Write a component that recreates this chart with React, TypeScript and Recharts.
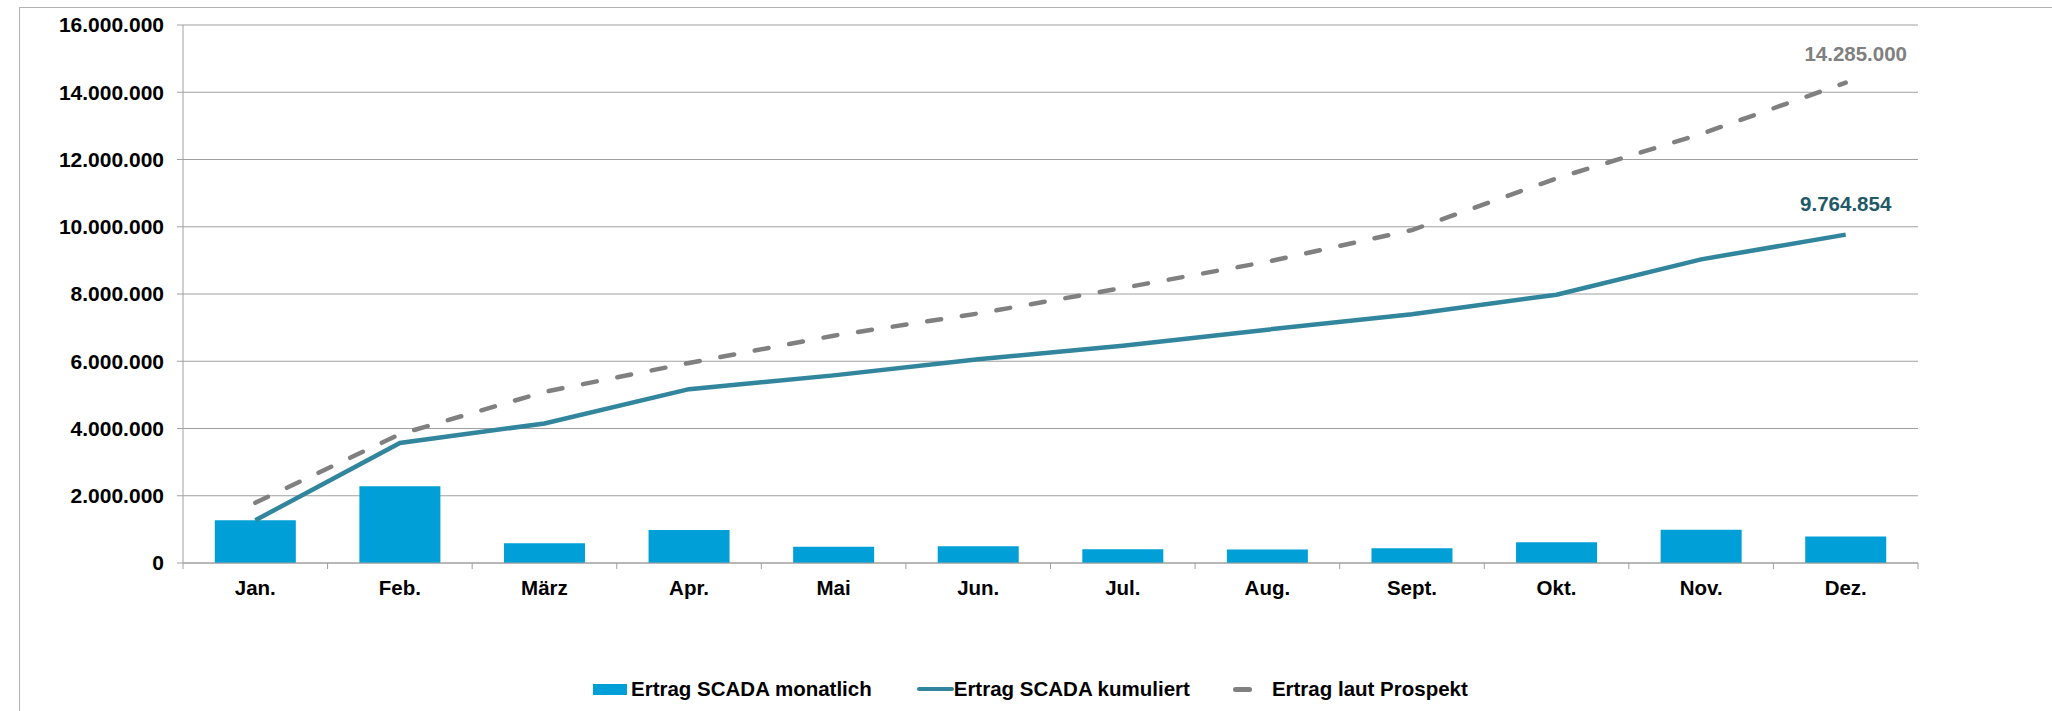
import { ComposedChart, Bar, Line, XAxis, YAxis, CartesianGrid, Legend, LabelList } from "recharts";

const months = ["Jan.", "Feb.", "März", "Apr.", "Mai", "Jun.", "Jul.", "Aug.", "Sept.", "Okt.", "Nov.", "Dez."];
const monatlich = [1270000, 2280000, 590000, 980000, 480000, 500000, 410000, 400000, 440000, 615000, 990000, 785000];
const kumuliert = [1270000, 3570000, 4150000, 5170000, 5580000, 6060000, 6460000, 6940000, 7400000, 7980000, 9030000, 9764854];
const prospekt = [1790000, 3830000, 5090000, 5950000, 6760000, 7420000, 8180000, 8960000, 9900000, 11440000, 12760000, 14285000];
const yTicks = [0, 2000000, 4000000, 6000000, 8000000, 10000000, 12000000, 14000000, 16000000];

const seriesNames = ["Ertrag SCADA monatlich", "Ertrag SCADA kumuliert", "Ertrag laut Prospekt"];

const data = months.map((m, i) => ({
  month: m,
  monatlich: monatlich[i],
  kumuliert: kumuliert[i],
  prospekt: prospekt[i],
}));

const CHART_W = 2052;
const CHART_H = 711;
const MARGIN = { top: 25, right: 134, bottom: 108, left: 0 };
const Y_W = 183;
const Y_TICK = 6;
const BAND = (CHART_W - MARGIN.left - MARGIN.right - Y_W) / months.length;

const FONT = '"Liberation Sans", Arial, sans-serif';
const FS = 20.5;
const BLUE = "#009fd7";
const TEAL = "#31859c";
const TEAL_DARK = "#215968";
const GREY = "#808080";
const AXIS = "#a0a0a0";

const fmt = (v: number) => String(Math.round(v)).replace(/\B(?=(\d{3})+(?!\d))/g, ".");

function MonthTick(props: any) {
  const { x, y, payload, index } = props;
  const half = BAND / 2;
  return (
    <g>
      <line x1={x - half} x2={x - half} y1={y} y2={y + 6} stroke={AXIS} />
      {index === months.length - 1 && (
        <line x1={x + half} x2={x + half} y1={y} y2={y + 6} stroke={AXIS} />
      )}
      <text x={x} y={y + 17} dy="0.71em" textAnchor="middle" fontFamily={FONT} fontSize={FS} fontWeight="bold" fill="#000">
        {payload.value}
      </text>
    </g>
  );
}

// label right edge sits 19px left of the axis line
function ValueTick(props: any) {
  const { y, payload } = props;
  return (
    <text x={Y_W - 19} y={y} dy="0.355em" textAnchor="end" fontFamily={FONT} fontSize={21} fontWeight="bold" fill="#000">
      {fmt(payload.value)}
    </text>
  );
}

const endLabel = (color: string, dx: number, dy: number) => (p: any) =>
  p.index === months.length - 1 ? (
    <text x={p.x + dx} y={p.y + dy} textAnchor="middle" fontFamily={FONT} fontSize={FS} fontWeight="bold" fill={color}>
      {fmt(p.value)}
    </text>
  ) : null;

function LegendBox() {
  const txt = { fontFamily: FONT, fontSize: FS, fontWeight: "bold" as const, color: "#000", whiteSpace: "nowrap" as const };
  return (
    <div style={{ display: "flex", alignItems: "center", height: 24 }}>
      <span style={{ display: "inline-block", width: 34, height: 11, background: BLUE, marginRight: 4 }} />
      <span style={txt}>{seriesNames[0]}</span>
      <span style={{ display: "inline-block", width: 37, height: 4, background: TEAL, borderRadius: 2, marginLeft: 45 }} />
      <span style={txt}>{seriesNames[1]}</span>
      <span style={{ display: "inline-block", width: 19, height: 5, background: GREY, borderRadius: 3, marginLeft: 43, marginRight: 20 }} />
      <span style={txt}>{seriesNames[2]}</span>
    </div>
  );
}

export default function App() {
  return (
    <div style={{ position: "absolute", left: 0, top: 0, width: CHART_W, height: CHART_H, background: "#fff", overflow: "hidden" }}>
      <div
        style={{
          position: "absolute",
          left: 19,
          top: 7,
          width: CHART_W - 19,
          height: CHART_H - 7,
          borderTop: "1px solid #b3b3b3",
          borderLeft: "1px solid #b3b3b3",
          boxSizing: "border-box",
        }}
      />
      <ComposedChart width={CHART_W} height={CHART_H} data={data} margin={MARGIN} barCategoryGap="22%" style={{ position: "absolute", left: 0, top: 0 }}>
        <CartesianGrid horizontal vertical={false} stroke={AXIS} strokeWidth={1} />
        <XAxis
          dataKey="month"
          tick={<MonthTick />}
          tickLine={false}
          tickSize={0}
          tickMargin={0}
          axisLine={{ stroke: AXIS }}
          height={40}
          interval={0}
        />
        <YAxis
          width={Y_W}
          domain={[0, 16000000]}
          ticks={yTicks}
          tick={<ValueTick />}
          tickSize={Y_TICK}
          tickMargin={0}
          tickLine={{ stroke: AXIS }}
          axisLine={{ stroke: AXIS }}
          interval={0}
        />
        <Legend
          layout="horizontal"
          verticalAlign="middle"
          align="center"
          content={() => <LegendBox />}
          wrapperStyle={{ position: "absolute", left: 593, top: 677, width: "auto", height: 24 }}
        />
        <Bar dataKey="monatlich" name={seriesNames[0]} fill={BLUE} isAnimationActive={false} />
        <Line
          dataKey="kumuliert"
          name={seriesNames[1]}
          type="linear"
          stroke={TEAL}
          strokeWidth={4.5}
          dot={false}
          activeDot={false}
          isAnimationActive={false}
        >
          <LabelList dataKey="kumuliert" content={endLabel(TEAL_DARK, 0, -24)} />
        </Line>
        <Line
          dataKey="prospekt"
          name={seriesNames[2]}
          type="linear"
          stroke={GREY}
          strokeWidth={4.5}
          strokeDasharray="14 21"
          strokeLinecap="round"
          dot={false}
          activeDot={false}
          isAnimationActive={false}
        >
          <LabelList dataKey="prospekt" content={endLabel(GREY, 10, -22)} />
        </Line>
      </ComposedChart>
    </div>
  );
}
